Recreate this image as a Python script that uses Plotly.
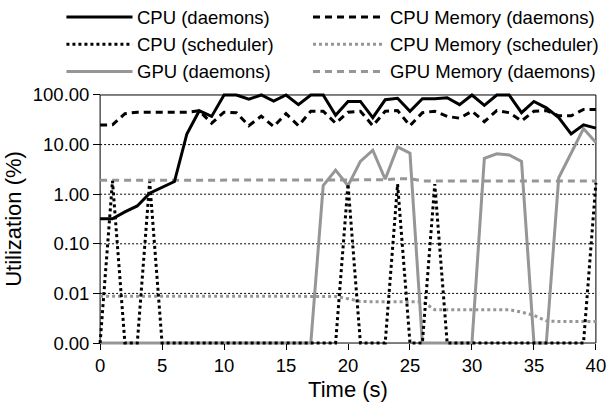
import plotly.graph_objects as go

# Sampling instants (one reading per second)
time_s = list(range(41))

# Utilization readings in percent (0 = idle)
cpu_daemons = [0.32, 0.32, 0.44, 0.58, 1.05, 1.37, 1.8, 16.4, 48, 37,
               100, 100, 82, 100, 75, 100, 64, 100, 100, 39,
               74, 74, 35, 80, 86, 47, 84, 84, 88, 64,
               100, 62, 100, 100, 44, 74, 55, 35, 16.4, 25, 21.5]
cpu_memory_daemons = [24.7, 25, 42, 45, 45, 45, 45, 45, 48, 27,
                      45, 44, 24, 37.5, 23, 42, 24, 47, 47, 27,
                      45, 47, 24, 47, 48.5, 24, 44, 47, 37, 34,
                      47, 29, 48.5, 44, 30, 47, 48.5, 38, 38, 51, 51]
cpu_scheduler = [0, 1.85, 0, 0, 1.8, 0, 0, 0, 0, 0,
                 0, 0, 0, 0, 0, 0, 0, 0, 0, 0,
                 1.6, 0, 0, 0, 1.6, 0, 0, 1.6, 0, 0,
                 0, 0, 0, 0, 0, 0, 0, 0, 0, 0, 1.7]
cpu_memory_scheduler = [0.0088] * 19 + [0.0087, 0.0078,
                        0.0069, 0.0068, 0.0068, 0.0068, 0.0068, 0.0068,
                        0.0047, 0.0047, 0.0047, 0.0047, 0.0047, 0.0047, 0.0047,
                        0.0042, 0.0036, 0.0028, 0.0027, 0.0027, 0.0027, 0.0027]
gpu_daemons = [0, 0, 0, 0, 0, 0, 0, 0, 0, 0,
               0, 0, 0, 0, 0, 0, 0, 0, 1.5, 3.05,
               1.48, 4.6, 7.7, 2.0, 9.0, 6.7, 0, 0, 0, 0,
               0, 5.3, 6.5, 6.2, 4.6, 0, 0, 2.15, 6.7, 21, 11]
gpu_memory_daemons = [1.9] * 23 + [1.95, 2.05, 2.05] + [1.85] * 15

y_tickvals = [0.001, 0.01, 0.1, 1, 10, 100]
y_ticktext = ["0.00", "0.01", "0.10", "1.00", "10.00", "100.00"]
x_tickvals = [0, 5, 10, 15, 20, 25, 30, 35, 40]

FLOOR = 0.001          # idle readings rest on the bottom of the log axis
X_RANGE = [-0.25, 40.25]
Y_RANGE = [-3.06, 2.06]  # log10 units, a little headroom so edge lines are not clipped

GRAY = "#969696"
FONT = "Liberation Sans, Arial, sans-serif"
FS = 18.5

W, H = 614, 406
M = dict(l=97, r=8, t=92, b=53)
PW = W - M["l"] - M["r"]
PH = H - M["t"] - M["b"]


def floored(vals):
    return [max(v, FLOOR) for v in vals]


series = [
    # (name, values, colour, dash)
    ("GPU Memory (daemons)", gpu_memory_daemons, GRAY, "7px,5px"),
    ("GPU (daemons)", gpu_daemons, GRAY, "solid"),
    ("CPU Memory (scheduler)", cpu_memory_scheduler, GRAY, "3px,3px"),
    ("CPU Memory (daemons)", cpu_memory_daemons, "black", "7px,5px"),
    ("CPU (scheduler)", cpu_scheduler, "black", "3px,3px"),
    ("CPU (daemons)", cpu_daemons, "black", "solid"),
]
style = {name: (col, dash) for name, _, col, dash in series}

fig = go.Figure()
for name, vals, col, dash in series:
    fig.add_trace(go.Scatter(
        x=time_s, y=floored(vals), mode="lines", name=name,
        line=dict(color=col, width=3, dash=dash), showlegend=False,
    ))

shapes = []
# frame around the data region
shapes.append(dict(type="rect", xref="x", yref="y", x0=time_s[0], x1=time_s[-1],
                   y0=y_tickvals[0], y1=y_tickvals[-1],
                   line=dict(color="black", width=1), layer="below"))
# dotted horizontal grid at each decade
for v in y_tickvals[1:-1]:
    shapes.append(dict(type="line", xref="x", yref="y", x0=time_s[0], x1=time_s[-1],
                       y0=v, y1=v, line=dict(color="black", width=1, dash="2px,2px"),
                       layer="below"))


def px_x(px):
    return (px - M["l"]) / PW


def px_y(py):
    return (H - M["b"] - py) / PH


# two-column legend drawn above the plot
legend_rows = [
    ("CPU (daemons)", "CPU Memory (daemons)"),
    ("CPU (scheduler)", "CPU Memory (scheduler)"),
    ("GPU (daemons)", "GPU Memory (daemons)"),
]
row_y = [15, 43, 71]
col_line = [(66, 133), (316, 389)]
annotations = []
for r, names in enumerate(legend_rows):
    for c, name in enumerate(names):
        col, dash = style[name]
        x0, x1 = col_line[c]
        shapes.append(dict(type="line", xref="paper", yref="paper",
                           x0=px_x(x0), x1=px_x(x1), y0=px_y(row_y[r]), y1=px_y(row_y[r]),
                           line=dict(color=col, width=3, dash=dash)))
        annotations.append(dict(text=name, xref="paper", yref="paper",
                                x=px_x(x1 + 3), y=px_y(row_y[r]), xanchor="left",
                                yanchor="middle", showarrow=False,
                                font=dict(family=FONT, size=FS, color="black")))

fig.update_layout(
    width=W, height=H, margin=M,
    plot_bgcolor="white", paper_bgcolor="white",
    font=dict(family=FONT, size=FS, color="black"),
    showlegend=False, shapes=shapes, annotations=annotations,
    xaxis=dict(range=X_RANGE, anchor="free",
               position=(-3 - Y_RANGE[0]) / (Y_RANGE[1] - Y_RANGE[0]),
               tickvals=x_tickvals, ticks="outside", ticklen=6, tickcolor="black",
               showline=False, showgrid=False, zeroline=False,
               title=dict(text="Time (s)", standoff=6)),
    yaxis=dict(type="log", range=Y_RANGE, anchor="free",
               position=(0 - X_RANGE[0]) / (X_RANGE[1] - X_RANGE[0]),
               tickvals=y_tickvals, ticktext=y_ticktext, ticks="outside", ticklen=7,
               tickcolor="black", showline=False, showgrid=False, zeroline=False,
               title=dict(text="Utilization (%)", standoff=4)),
)

fig.write_html("out.html")
